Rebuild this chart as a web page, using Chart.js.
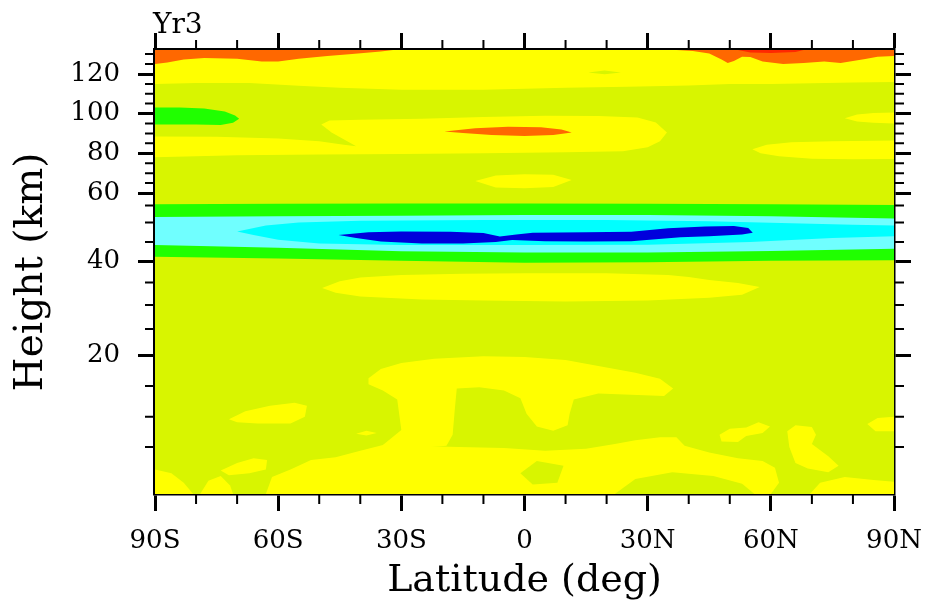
<!DOCTYPE html>
<html>
<head>
<meta charset="utf-8">
<script src="https://cdn.jsdelivr.net/npm/chart.js@4.4.1/dist/chart.umd.min.js"></script>
<style>
  html, body { margin: 0; padding: 0; background: #fff; }
</style>
</head>
<body>
<canvas id="contourChart" width="926" height="609"></canvas>
<script>
// axis ticks
const latTicks = [-90, -60, -30, 0, 30, 60, 90];
const latLabels = ['90S', '60S', '30S', '0', '30N', '60N', '90N'];
const latMinor = [-80, -70, -50, -40, -20, -10, 10, 20, 40, 50, 70, 80];
const heightTicks = [20, 40, 60, 80, 100, 120];
const heightMinor = [5, 10, 15, 25, 30, 35, 45, 50, 55, 65, 70, 75, 85, 90, 95, 105, 110, 115, 125, 130];

// height axis follows the model levels, so km are not evenly spaced
const levelHeights = [0, 5, 10, 15, 20, 25, 30, 35, 40, 45, 50, 55, 60, 80, 100, 120, 132];
const levelFrac = [0, .106, .174, .243, .3115, .3716, .4257, .4764, .5236, .5676, .6115, .6498, .6779, .7673, .857, .9459, 1];

// contour regions, [lat, height km]
const yellowTop = [[-90,132],[90,132],[90,116],[80,115.7],[70,115.3],[60,115],[50,115],[40,114.2],[25,113.5],[10,113],[0,112.5],[-10,112],[-30,112],[-45,113],[-55,114],[-67,115.5],[-80,115.5],[-90,115]];
const yellowTopGap = [[15.5,120.8],[19.5,121.8],[23.5,120.8],[19.5,119.9]];
const orangeTopLeft = [[-90,132],[-32,132],[-35,131.2],[-42,130],[-48,129],[-55,127.6],[-60,126.3],[-64,126.2],[-70,127.6],[-78,128],[-83,127.3],[-87,125.8],[-90,125]];
const orangeTopRight = [[37,132],[90,132],[90,129],[86,128.6],[83,127.5],[77,125.5],[73,126.3],[68,125.5],[63,125],[58,126.3],[55,128.5],[53,128.6],[51,126.5],[49.5,125.5],[48,127.3],[45,130.2],[41,131.5]];
const redTopRight = [[52,132],[68,132],[66,131],[60,130.5],[55,130.8]];
const greenLeftPatch = [[-90,103],[-84,103],[-78,102.5],[-73,101],[-70.5,99],[-69.5,97.3],[-71,95.3],[-74,94.2],[-80,94.5],[-90,94.5]];
const yellowMid = [[-90,88.5],[-75,88.3],[-60,87.5],[-50,86],[-44,84.3],[-41,83.5],[-43.5,86.5],[-47,90.5],[-49.5,94.5],[-47.5,96.5],[-40,96.9],[-25,97.4],[-10,98.3],[5,98.9],[18,98.7],[27.5,98],[32,95.5],[34.7,90.5],[33,86],[30,83],[24,81],[10,80.5],[-10,80],[-30,79.6],[-50,79.4],[-70,79],[-90,78]];
const orangeLens = [[-19.5,91],[-12,92.6],[-4,93.3],[4,93.1],[9,92],[11.5,90.5],[7,89.2],[0,88.7],[-8,89.2],[-15,90.2]];
const yellowRight100 = [[78,97.6],[81,99.5],[85,100.3],[90,100.5],[90,95],[85,95.4],[81,96]];
const yellowRight80 = [[55.5,82],[59,84.3],[65,85.5],[75,86],[90,86.5],[90,77.2],[80,77],[70,77.3],[62,78.5],[57.5,80]];
const yellowLens65 = [[-12,66],[-7,68.8],[0,69.5],[7,69.2],[11.5,66.5],[7,63],[0,62.4],[-7,62.8]];
const greenBandTop = [[-90,55.5],[-60,55.7],[-30,55.8],[0,55.8],[30,55.7],[60,55.5],[90,55.2]];
const greenBandBottom = [[90,40.3],[60,40.2],[30,39.8],[0,39.7],[-30,40.2],[-60,40.8],[-90,41.2]];
const paleCyanTop = [[-90,51.6],[-60,51.8],[-30,52],[0,52.2],[30,52.2],[60,51.8],[90,51.2]];
const paleCyanBottom = [[90,43.3],[60,42.7],[30,42.3],[0,42.3],[-30,42.6],[-60,43.5],[-90,44.2]];
const cyanCore = [[-70,47.7],[-63,49.2],[-55,50],[-40,50.5],[-10,50.7],[20,50.7],[45,50.4],[65,49.8],[80,49.4],[90,49.2],[90,46.5],[75,46],[55,45],[30,44.3],[0,44.2],[-30,44.2],[-50,44.6],[-60,45.6],[-66,46.8]];
const blueCore = [[-45.3,46.8],[-38,47.5],[-30,47.7],[-18,47.6],[-10,47.3],[-6,46.4],[-2,46.9],[2,47.4],[15,47.5],[26,47.6],[35,48.5],[44,49],[51,49.1],[54.5,48.6],[55.6,47.4],[53,46.9],[45,46.5],[38,46.2],[26,45.2],[15,45.1],[5,45.2],[-3,45.5],[-7,45],[-15,44.6],[-25,44.6],[-35,45.1],[-41,46]];
const yellowBand35 = [[-49.3,33.8],[-45,35.3],[-40,36.2],[-30,36.8],[-15,37.1],[0,37.2],[20,37.2],[35,36.8],[40,36.3],[45,35.6],[52,34.9],[57.3,34],[53,32.3],[45,31.6],[30,31],[10,30.8],[-10,31],[-25,31.2],[-40,31.9],[-46,32.7]];
const yellowTropo = [[-38,16.3],[-35,17.8],[-30,18.8],[-22,19.5],[-10,19.9],[0,19.8],[10,19.3],[18,18.3],[27,17.2],[33,16.2],[36.2,14.6],[34,13.4],[26,13.6],[18,13.8],[12,12.8],[11,10.5],[10.5,8.6],[7,7.7],[3,8.4],[0.5,10.5],[-1,13],[-5,14.3],[-11,14.8],[-16.5,14.6],[-17,11],[-17.5,7],[-19,5.2],[-26,4.9],[-34.5,5.3],[-30,7.8],[-31,12.8],[-34.5,14.3],[-38,15.3]];
const yellowBottom = [[-63,0],[-61.5,1.8],[-57,2.6],[-52,3.6],[-46,3.9],[-40,4.6],[-34,5.4],[-28,5.2],[-16,5],[-5,4.9],[5,4.6],[15,4.8],[22,5.5],[27,6.1],[33,6.6],[37,6.6],[39,5.2],[45,4.4],[52,3.8],[58,3.5],[61,2.8],[62,1.2],[60,0]];
const bottomGapA = [[-1,2.2],[3,3.5],[9.5,3],[8,1.2],[2,1]];
const bottomGapB = [[22,0],[27,1.6],[36,2.3],[46,1.9],[53,1.1],[56,0]];
const yellowPatchA = [[-72,9.6],[-68,10.9],[-62,11.8],[-56,12.3],[-53,11.8],[-53.5,10],[-57,8.9],[-65,8.9],[-70,9.1]];
const yellowPatchB = [[-74,2.5],[-70,3.3],[-66,3.8],[-62.7,3.6],[-63,2.6],[-67,2.2],[-72,2.0]];
const yellowCornerL = [[-90,2.6],[-86,2.2],[-83,1.2],[-80.7,0],[-90,0]];
const yellowPatchD = [[-79,0],[-77,1.4],[-74,1.9],[-71.7,0.9],[-71,0]];
const yellowSpot = [[-41,7.2],[-38.5,7.7],[-36,7.3],[-38.5,6.9]];
const yellowPatchS = [[47.5,7],[50,8],[54,8.2],[57,9.1],[59.8,8.4],[58,7.3],[54,6.8],[52,5.8],[48,5.9]];
const yellowPatchR = [[64,7.6],[66,8.6],[70,8.3],[71,7],[70,5.5],[74,4],[76.5,3],[74,2.3],[69,2.7],[66,3.3],[64.5,5]];
const yellowEdgeR = [[83.5,8.8],[86,9.8],[90,10],[90,7.6],[85.5,7.6]];
const yellowBottomR = [[69.5,0],[72,1.2],[78,1.8],[85,1.5],[90,1.3],[90,0]];

const colors = {
  base: '#d8f500', yellow: '#ffff00', orange: '#ff6800', red: '#ff2800',
  green: '#20ff00', paleCyan: '#70ffff', cyan: '#00ffff', blue: '#0000dc'
};
const serif = "'DejaVu Serif', serif";

function interp(v, xs, ys) {
  let i = 1;
  while (i < xs.length - 1 && v > xs[i]) i++;
  const t = (v - xs[i - 1]) / (xs[i] - xs[i - 1]);
  return ys[i - 1] + t * (ys[i] - ys[i - 1]);
}

class LevelScale extends Chart.LinearScale {
  getPixelForValue(value) {
    return this.getPixelForDecimal(interp(value, levelHeights, levelFrac));
  }
  getValueForPixel(pixel) {
    return interp(this.getDecimalForPixel(pixel), levelFrac, levelHeights);
  }
}
LevelScale.id = 'level';
LevelScale.defaults = Chart.LinearScale.defaults;
Chart.register(LevelScale);

function region(points, color) {
  return {
    data: points.map(p => ({x: p[0], y: p[1]})),
    showLine: true,
    fill: 'shape',
    backgroundColor: color,
    borderWidth: 0,
    pointRadius: 0,
    tension: 0
  };
}

// bottom layer first
const layers = [
  region(yellowTop, colors.yellow),
  region(yellowTopGap, colors.base),
  region(orangeTopLeft, colors.orange),
  region(orangeTopRight, colors.orange),
  region(redTopRight, colors.red),
  region(greenLeftPatch, colors.green),
  region(yellowMid, colors.yellow),
  region(orangeLens, colors.orange),
  region(yellowRight100, colors.yellow),
  region(yellowRight80, colors.yellow),
  region(yellowLens65, colors.yellow),
  region(greenBandTop.concat(greenBandBottom), colors.green),
  region(paleCyanTop.concat(paleCyanBottom), colors.paleCyan),
  region(cyanCore, colors.cyan),
  region(blueCore, colors.blue),
  region(yellowBand35, colors.yellow),
  region(yellowTropo, colors.yellow),
  region(yellowBottom, colors.yellow),
  region(bottomGapA, colors.base),
  region(bottomGapB, colors.base),
  region(yellowPatchA, colors.yellow),
  region(yellowPatchB, colors.yellow),
  region(yellowCornerL, colors.yellow),
  region(yellowPatchD, colors.yellow),
  region(yellowSpot, colors.yellow),
  region(yellowPatchS, colors.yellow),
  region(yellowPatchR, colors.yellow),
  region(yellowEdgeR, colors.yellow),
  region(yellowBottomR, colors.yellow)
];
// chart.js draws dataset 0 on top
const datasets = layers.slice().reverse();

const plotBackground = {
  id: 'plotBackground',
  beforeDatasetsDraw(chart) {
    const {ctx, chartArea: a} = chart;
    ctx.save();
    ctx.fillStyle = colors.base;
    ctx.fillRect(a.left, a.top, a.right - a.left, a.bottom - a.top);
    ctx.restore();
  }
};

const minorTicks = {
  id: 'minorTicks',
  afterDraw(chart) {
    const {ctx, scales, chartArea: a} = chart;
    ctx.save();
    ctx.strokeStyle = '#000';
    ctx.lineWidth = 2;
    ctx.beginPath();
    latMinor.forEach(v => {
      const px = scales.x.getPixelForValue(v);
      ctx.moveTo(px, a.bottom); ctx.lineTo(px, a.bottom + 10);
      ctx.moveTo(px, a.top); ctx.lineTo(px, a.top - 10);
    });
    heightMinor.forEach(v => {
      const py = scales.y.getPixelForValue(v);
      ctx.moveTo(a.left, py); ctx.lineTo(a.left - 10, py);
      ctx.moveTo(a.right, py); ctx.lineTo(a.right + 10, py);
    });
    ctx.stroke();
    ctx.fillStyle = '#000';
    ctx.font = '28px ' + serif;
    ctx.textAlign = 'left';
    ctx.textBaseline = 'alphabetic';
    ctx.fillText('Yr3', a.left - 2, 33);
    ctx.restore();
  }
};

const majorGrid = {drawOnChartArea: false, drawTicks: true, tickLength: 17, tickWidth: 3, tickColor: '#000'};
const frame = {display: true, color: '#000', width: 3.5};
const tickFont = {family: serif, size: 26};

function fixBox(size, horizontal) {
  return s => {
    if (horizontal) s.height = size; else s.width = size;
    s.paddingLeft = 0; s.paddingRight = 0; s.paddingTop = 0; s.paddingBottom = 0;
  };
}

new Chart(document.getElementById('contourChart'), {
  type: 'scatter',
  data: {datasets: datasets},
  options: {
    responsive: false,
    animation: false,
    events: [],
    layout: {padding: {left: 0, right: 12, top: 30, bottom: 0}},
    plugins: {legend: {display: false}, tooltip: {enabled: false}},
    scales: {
      x: {
        type: 'linear', position: 'bottom', min: -90, max: 90,
        afterBuildTicks: s => { s.ticks = latTicks.map(v => ({value: v})); },
        afterFit: fixBox(115, true),
        ticks: {autoSkip: false, maxRotation: 0, padding: 15, color: '#000', font: tickFont,
          callback: v => latLabels[latTicks.indexOf(v)]},
        grid: majorGrid,
        border: frame,
        title: {display: true, text: 'Latitude (deg)', color: '#000', font: {family: serif, size: 38}, padding: {top: 0, bottom: 5}}
      },
      xTop: {
        type: 'linear', position: 'top', min: -90, max: 90,
        afterBuildTicks: s => { s.ticks = latTicks.map(v => ({value: v})); },
        afterFit: fixBox(20, true),
        ticks: {display: false},
        grid: majorGrid,
        border: frame
      },
      y: {
        type: 'level', position: 'left', min: 0, max: 132,
        afterBuildTicks: s => { s.ticks = heightTicks.map(v => ({value: v})); },
        afterFit: fixBox(155, false),
        ticks: {autoSkip: false, padding: 18, color: '#000', font: tickFont, callback: v => String(v)},
        grid: majorGrid,
        border: frame,
        title: {display: true, text: 'Height (km)', color: '#000', font: {family: serif, size: 39}, padding: {top: 8, bottom: 0}}
      },
      yRight: {
        type: 'level', position: 'right', min: 0, max: 132,
        afterBuildTicks: s => { s.ticks = heightTicks.map(v => ({value: v})); },
        afterFit: fixBox(20, false),
        ticks: {display: false},
        grid: majorGrid,
        border: frame
      }
    }
  },
  plugins: [plotBackground, minorTicks]
});
</script>
</body>
</html>
